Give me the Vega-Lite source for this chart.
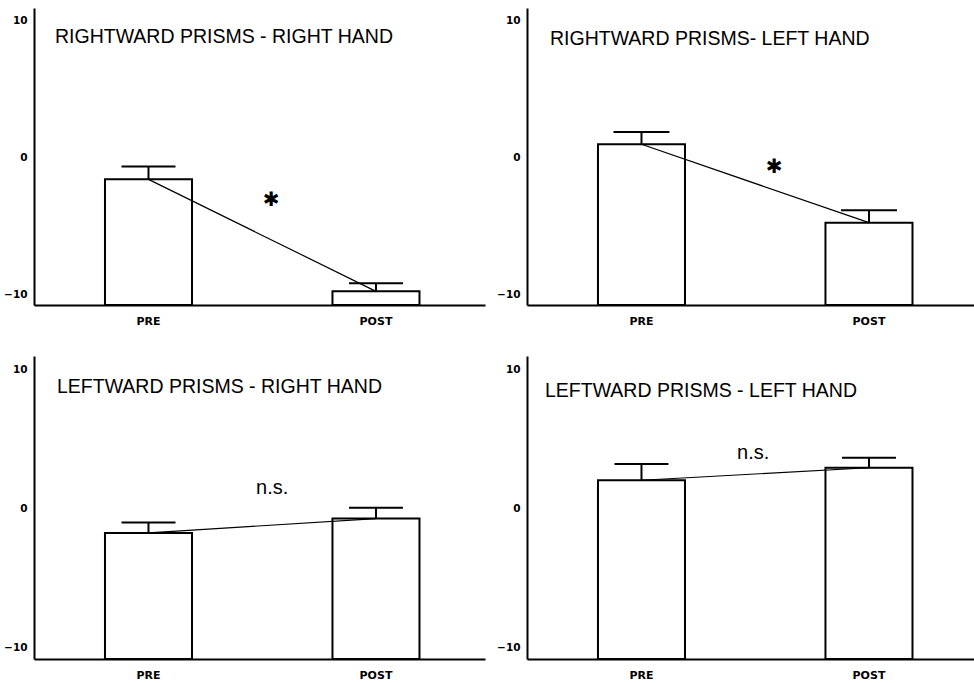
{
  "$schema": "https://vega.github.io/schema/vega-lite/v6.json",
  "background": "white",
  "padding": {"left": 3, "top": 8, "right": 0, "bottom": 0},
  "datasets": {
    "bars": [
      {"panel": "RR", "phase": "PRE", "mean": -1.6, "upper": -0.66},
      {"panel": "RR", "phase": "POST", "mean": -9.8, "upper": -9.2},
      {"panel": "RL", "phase": "PRE", "mean": 0.97, "upper": 1.87},
      {"panel": "RL", "phase": "POST", "mean": -4.77, "upper": -3.87},
      {"panel": "LR", "phase": "PRE", "mean": -1.75, "upper": -1.0},
      {"panel": "LR", "phase": "POST", "mean": -0.72, "upper": 0.05},
      {"panel": "LL", "phase": "PRE", "mean": 2.03, "upper": 3.2},
      {"panel": "LL", "phase": "POST", "mean": 2.93, "upper": 3.65}
    ],
    "notes": [
      {"panel": "RR", "phase": "MID", "y": -3.1, "label": "✱"},
      {"panel": "RL", "phase": "MID", "y": -0.66, "label": "✱"},
      {"panel": "LR", "phase": "MID", "y": 1.5, "label": "n.s."},
      {"panel": "LL", "phase": "MID", "y": 4.0, "label": "n.s."}
    ]
  },
  "config": {
    "view": {"stroke": null},
    "axis": {
      "domainColor": "black",
      "domainWidth": 2,
      "ticks": false,
      "grid": false,
      "labelFont": "DejaVu Sans",
      "labelFontWeight": "bold",
      "labelFontSize": 10.5,
      "labelColor": "black",
      "title": null
    },
    "title": {
      "font": "Liberation Sans",
      "fontSize": 19.5,
      "fontWeight": "normal",
      "color": "black",
      "anchor": "start",
      "frame": "group",
      "orient": "top",
      "baseline": "alphabetic"
    }
  },
  "columns": 2,
  "spacing": {"row": 30, "column": 11},
  "concat": [
    {
      "width": 451, "height": 297,
      "title": {"text": "RIGHTWARD PRISMS - RIGHT HAND", "offset": -39, "dx": 21},
      "layer": [
        {"data": {"name": "bars"}, "transform": [{"filter": "datum.panel == 'RR'"}],
         "mark": {"type": "bar", "fill": "white", "stroke": "black", "strokeWidth": 2},
         "encoding": {
           "x": {"field": "phase", "type": "nominal", "scale": {"domain": ["PRE", "MID", "POST"], "paddingInner": 0.235, "paddingOuter": 0.6, "align": 0.52}, "axis": {"labelExpr": "datum.value == 'MID' ? '' : datum.value", "labelAngle": 0, "labelPadding": 10, "labelFontSize": 11}},
           "y": {"field": "mean", "type": "quantitative", "scale": {"domain": [-10.8, 10.95], "nice": false, "zero": false}, "axis": {"values": [-10, 0, 10], "labelPadding": 7}},
           "y2": {"datum": -10.8}
         }},
        {"data": {"name": "bars"}, "transform": [{"filter": "datum.panel == 'RR'"}],
         "mark": {"type": "line", "color": "black", "strokeWidth": 1.2},
         "encoding": {"x": {"field": "phase", "type": "nominal"}, "y": {"field": "mean", "type": "quantitative"}}},
        {"data": {"name": "bars"}, "transform": [{"filter": "datum.panel == 'RR'"}],
         "mark": {"type": "rule", "color": "black", "strokeWidth": 2},
         "encoding": {"x": {"field": "phase", "type": "nominal"}, "y": {"field": "mean", "type": "quantitative"}, "y2": {"field": "upper"}}},
        {"data": {"name": "bars"}, "transform": [{"filter": "datum.panel == 'RR'"}],
         "mark": {"type": "tick", "color": "black", "opacity": 1, "thickness": 2, "size": 54, "orient": "horizontal"},
         "encoding": {"x": {"field": "phase", "type": "nominal"}, "y": {"field": "upper", "type": "quantitative"}}},
        {"data": {"name": "notes"}, "transform": [{"filter": "datum.panel == 'RR'"}],
         "mark": {"type": "text", "font": "DejaVu Sans", "fontSize": 20, "color": "black", "baseline": "middle", "dx": 9},
         "encoding": {"x": {"field": "phase", "type": "nominal"}, "y": {"field": "y", "type": "quantitative"}, "text": {"field": "label"}}}
      ]
    },
    {
      "width": 451, "height": 297,
      "title": {"text": "RIGHTWARD PRISMS- LEFT HAND", "offset": -41, "dx": 23},
      "layer": [
        {"data": {"name": "bars"}, "transform": [{"filter": "datum.panel == 'RL'"}],
         "mark": {"type": "bar", "fill": "white", "stroke": "black", "strokeWidth": 2},
         "encoding": {
           "x": {"field": "phase", "type": "nominal", "scale": {"domain": ["PRE", "MID", "POST"], "paddingInner": 0.235, "paddingOuter": 0.6, "align": 0.52}, "axis": {"labelExpr": "datum.value == 'MID' ? '' : datum.value", "labelAngle": 0, "labelPadding": 10, "labelFontSize": 11}},
           "y": {"field": "mean", "type": "quantitative", "scale": {"domain": [-10.8, 10.95], "nice": false, "zero": false}, "axis": {"values": [-10, 0, 10], "labelPadding": 7}},
           "y2": {"datum": -10.8}
         }},
        {"data": {"name": "bars"}, "transform": [{"filter": "datum.panel == 'RL'"}],
         "mark": {"type": "line", "color": "black", "strokeWidth": 1.2},
         "encoding": {"x": {"field": "phase", "type": "nominal"}, "y": {"field": "mean", "type": "quantitative"}}},
        {"data": {"name": "bars"}, "transform": [{"filter": "datum.panel == 'RL'"}],
         "mark": {"type": "rule", "color": "black", "strokeWidth": 2},
         "encoding": {"x": {"field": "phase", "type": "nominal"}, "y": {"field": "mean", "type": "quantitative"}, "y2": {"field": "upper"}}},
        {"data": {"name": "bars"}, "transform": [{"filter": "datum.panel == 'RL'"}],
         "mark": {"type": "tick", "color": "black", "opacity": 1, "thickness": 2, "size": 56, "orient": "horizontal"},
         "encoding": {"x": {"field": "phase", "type": "nominal"}, "y": {"field": "upper", "type": "quantitative"}}},
        {"data": {"name": "notes"}, "transform": [{"filter": "datum.panel == 'RL'"}],
         "mark": {"type": "text", "font": "DejaVu Sans", "fontSize": 20, "color": "black", "baseline": "middle", "dx": 19},
         "encoding": {"x": {"field": "phase", "type": "nominal"}, "y": {"field": "y", "type": "quantitative"}, "text": {"field": "label"}}}
      ]
    },
    {
      "width": 451, "height": 303,
      "title": {"text": "LEFTWARD PRISMS - RIGHT HAND", "offset": -41, "dx": 23},
      "layer": [
        {"data": {"name": "bars"}, "transform": [{"filter": "datum.panel == 'LR'"}],
         "mark": {"type": "bar", "fill": "white", "stroke": "black", "strokeWidth": 2},
         "encoding": {
           "x": {"field": "phase", "type": "nominal", "scale": {"domain": ["PRE", "MID", "POST"], "paddingInner": 0.235, "paddingOuter": 0.6, "align": 0.52}, "axis": {"labelExpr": "datum.value == 'MID' ? '' : datum.value", "labelAngle": 0, "labelPadding": 10, "labelFontSize": 11}},
           "y": {"field": "mean", "type": "quantitative", "scale": {"domain": [-10.8, 10.95], "nice": false, "zero": false}, "axis": {"values": [-10, 0, 10], "labelPadding": 7}},
           "y2": {"datum": -10.8}
         }},
        {"data": {"name": "bars"}, "transform": [{"filter": "datum.panel == 'LR'"}],
         "mark": {"type": "line", "color": "black", "strokeWidth": 1.2},
         "encoding": {"x": {"field": "phase", "type": "nominal"}, "y": {"field": "mean", "type": "quantitative"}}},
        {"data": {"name": "bars"}, "transform": [{"filter": "datum.panel == 'LR'"}],
         "mark": {"type": "rule", "color": "black", "strokeWidth": 2},
         "encoding": {"x": {"field": "phase", "type": "nominal"}, "y": {"field": "mean", "type": "quantitative"}, "y2": {"field": "upper"}}},
        {"data": {"name": "bars"}, "transform": [{"filter": "datum.panel == 'LR'"}],
         "mark": {"type": "tick", "color": "black", "opacity": 1, "thickness": 2, "size": 54, "orient": "horizontal"},
         "encoding": {"x": {"field": "phase", "type": "nominal"}, "y": {"field": "upper", "type": "quantitative"}}},
        {"data": {"name": "notes"}, "transform": [{"filter": "datum.panel == 'LR'"}],
         "mark": {"type": "text", "font": "Liberation Sans", "fontSize": 20, "color": "black", "baseline": "middle", "dx": 10},
         "encoding": {"x": {"field": "phase", "type": "nominal"}, "y": {"field": "y", "type": "quantitative"}, "text": {"field": "label"}}}
      ]
    },
    {
      "width": 451, "height": 303,
      "title": {"text": "LEFTWARD PRISMS - LEFT HAND", "offset": -45, "dx": 18},
      "layer": [
        {"data": {"name": "bars"}, "transform": [{"filter": "datum.panel == 'LL'"}],
         "mark": {"type": "bar", "fill": "white", "stroke": "black", "strokeWidth": 2},
         "encoding": {
           "x": {"field": "phase", "type": "nominal", "scale": {"domain": ["PRE", "MID", "POST"], "paddingInner": 0.235, "paddingOuter": 0.6, "align": 0.52}, "axis": {"labelExpr": "datum.value == 'MID' ? '' : datum.value", "labelAngle": 0, "labelPadding": 10, "labelFontSize": 11}},
           "y": {"field": "mean", "type": "quantitative", "scale": {"domain": [-10.8, 10.95], "nice": false, "zero": false}, "axis": {"values": [-10, 0, 10], "labelPadding": 7}},
           "y2": {"datum": -10.8}
         }},
        {"data": {"name": "bars"}, "transform": [{"filter": "datum.panel == 'LL'"}],
         "mark": {"type": "line", "color": "black", "strokeWidth": 1.2},
         "encoding": {"x": {"field": "phase", "type": "nominal"}, "y": {"field": "mean", "type": "quantitative"}}},
        {"data": {"name": "bars"}, "transform": [{"filter": "datum.panel == 'LL'"}],
         "mark": {"type": "rule", "color": "black", "strokeWidth": 2},
         "encoding": {"x": {"field": "phase", "type": "nominal"}, "y": {"field": "mean", "type": "quantitative"}, "y2": {"field": "upper"}}},
        {"data": {"name": "bars"}, "transform": [{"filter": "datum.panel == 'LL'"}],
         "mark": {"type": "tick", "color": "black", "opacity": 1, "thickness": 2, "size": 54, "orient": "horizontal"},
         "encoding": {"x": {"field": "phase", "type": "nominal"}, "y": {"field": "upper", "type": "quantitative"}}},
        {"data": {"name": "notes"}, "transform": [{"filter": "datum.panel == 'LL'"}],
         "mark": {"type": "text", "font": "Liberation Sans", "fontSize": 20, "color": "black", "baseline": "middle", "dx": -2},
         "encoding": {"x": {"field": "phase", "type": "nominal"}, "y": {"field": "y", "type": "quantitative"}, "text": {"field": "label"}}}
      ]
    }
  ]
}
